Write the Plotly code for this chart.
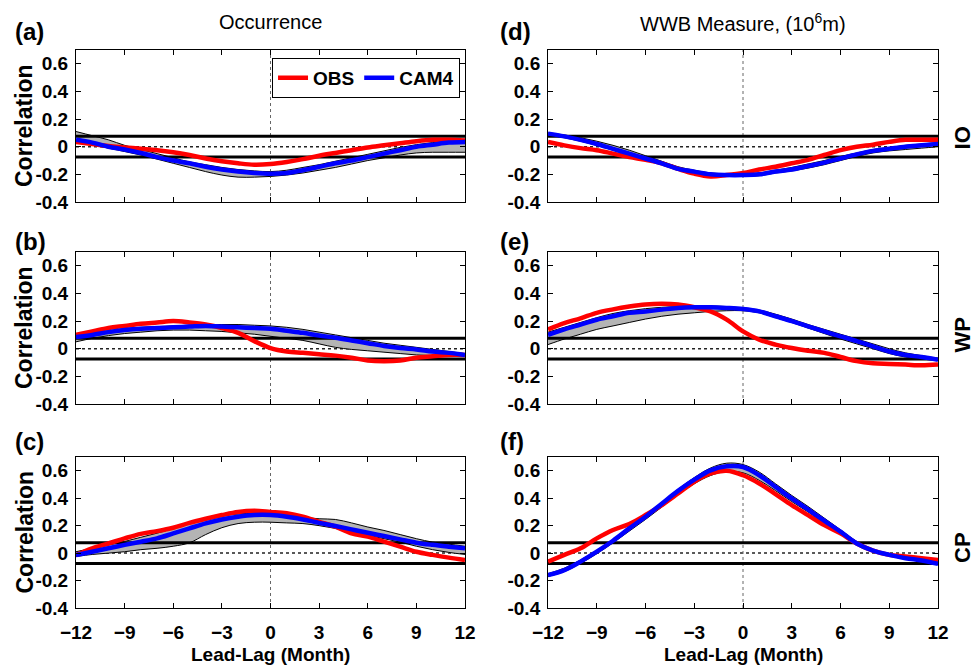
import plotly.graph_objects as go

lag = list(range(-12, 13))
sig_level = 0.075

# (a) Occurrence, IO
obs_a = [0.035, 0.02, 0.005, -0.005, -0.015, -0.025, -0.04, -0.06, -0.085, -0.105, -0.12, -0.13, -0.125,
         -0.11, -0.09, -0.065, -0.045, -0.025, -0.005, 0.01, 0.025, 0.04, 0.05, 0.05, 0.045]
cam_a = [0.05, 0.03, 0.0, -0.02, -0.045, -0.075, -0.1, -0.12, -0.145, -0.165, -0.18, -0.19, -0.195,
         -0.19, -0.17, -0.145, -0.12, -0.1, -0.075, -0.05, -0.025, 0.0, 0.015, 0.03, 0.035]
hi_a = [0.11, 0.08, 0.05, 0.01, -0.02, -0.05, -0.08, -0.11, -0.13, -0.15, -0.165, -0.175, -0.18,
        -0.17, -0.15, -0.13, -0.105, -0.08, -0.055, -0.03, -0.005, 0.015, 0.03, 0.045, 0.055]
lo_a = [0.04, 0.015, -0.01, -0.035, -0.06, -0.09, -0.12, -0.15, -0.18, -0.205, -0.22, -0.22, -0.215,
        -0.205, -0.19, -0.17, -0.15, -0.125, -0.1, -0.08, -0.06, -0.045, -0.04, -0.04, -0.04]

# (b) Occurrence, WP
obs_b = [0.1, 0.125, 0.15, 0.165, 0.18, 0.19, 0.2, 0.19, 0.175, 0.15, 0.115, 0.055, 0.005,
         -0.02, -0.03, -0.04, -0.05, -0.065, -0.085, -0.09, -0.085, -0.065, -0.055, -0.045, -0.045]
cam_b = [0.085, 0.1, 0.12, 0.135, 0.145, 0.15, 0.155, 0.16, 0.165, 0.16, 0.155, 0.15, 0.145,
         0.13, 0.115, 0.095, 0.08, 0.06, 0.04, 0.02, 0.005, -0.005, -0.02, -0.03, -0.045]
hi_b = [0.1, 0.115, 0.13, 0.145, 0.155, 0.16, 0.165, 0.17, 0.175, 0.175, 0.175, 0.17, 0.165,
        0.155, 0.14, 0.12, 0.1, 0.08, 0.06, 0.04, 0.025, 0.01, -0.005, -0.02, -0.035]
lo_b = [0.05, 0.075, 0.095, 0.11, 0.12, 0.13, 0.135, 0.135, 0.13, 0.125, 0.115, 0.105, 0.09,
        0.075, 0.06, 0.035, 0.01, -0.005, -0.015, -0.025, -0.035, -0.045, -0.05, -0.055, -0.055]

# (c) Occurrence, CP
obs_c = [-0.015, 0.035, 0.07, 0.107, 0.14, 0.16, 0.185, 0.22, 0.25, 0.277, 0.3, 0.308, 0.3,
         0.29, 0.265, 0.228, 0.192, 0.143, 0.12, 0.083, 0.047, 0.01, -0.013, -0.033, -0.05]
cam_c = [-0.015, 0.01, 0.035, 0.06, 0.083, 0.107, 0.143, 0.18, 0.216, 0.245, 0.265, 0.277, 0.277,
         0.265, 0.245, 0.22, 0.197, 0.173, 0.148, 0.124, 0.1, 0.076, 0.06, 0.047, 0.035]
hi_c = [0.01, 0.035, 0.06, 0.085, 0.115, 0.145, 0.18, 0.225, 0.255, 0.275, 0.285, 0.29, 0.285,
        0.275, 0.26, 0.25, 0.245, 0.22, 0.19, 0.165, 0.135, 0.105, 0.08, 0.065, 0.05]
lo_c = [-0.025, -0.01, 0.0, 0.01, 0.025, 0.035, 0.05, 0.075, 0.135, 0.185, 0.215, 0.225, 0.225,
        0.22, 0.215, 0.2, 0.18, 0.155, 0.13, 0.105, 0.08, 0.05, 0.025, 0.005, -0.01]

# (d) WWB measure, IO
obs_d = [0.035, 0.01, -0.01, -0.025, -0.05, -0.075, -0.095, -0.12, -0.16, -0.195, -0.215, -0.205, -0.19,
         -0.165, -0.145, -0.12, -0.095, -0.06, -0.025, 0.0, 0.015, 0.035, 0.05, 0.05, 0.05]
cam_d = [0.095, 0.075, 0.05, 0.02, -0.015, -0.05, -0.085, -0.12, -0.16, -0.18, -0.2, -0.205, -0.205,
         -0.2, -0.18, -0.165, -0.14, -0.115, -0.085, -0.055, -0.03, -0.015, 0.0, 0.01, 0.02]
hi_d = [0.1, 0.085, 0.065, 0.04, 0.01, -0.025, -0.065, -0.105, -0.145, -0.17, -0.19, -0.195, -0.195,
        -0.19, -0.17, -0.15, -0.125, -0.1, -0.07, -0.045, -0.02, -0.005, 0.01, 0.02, 0.03]
lo_d = [0.085, 0.065, 0.04, 0.01, -0.025, -0.06, -0.095, -0.13, -0.17, -0.19, -0.21, -0.215, -0.215,
        -0.21, -0.19, -0.175, -0.155, -0.13, -0.1, -0.07, -0.045, -0.03, -0.02, -0.01, 0.0]

# (e) WWB measure, WP
obs_e = [0.14, 0.185, 0.22, 0.26, 0.285, 0.305, 0.32, 0.325, 0.32, 0.3, 0.27, 0.21, 0.125,
         0.065, 0.03, 0.005, -0.015, -0.03, -0.06, -0.09, -0.105, -0.11, -0.115, -0.12, -0.115]
cam_e = [0.1, 0.14, 0.175, 0.21, 0.235, 0.26, 0.27, 0.283, 0.295, 0.3, 0.3, 0.295, 0.287,
         0.27, 0.235, 0.2, 0.162, 0.125, 0.09, 0.055, 0.017, -0.02, -0.045, -0.06, -0.08]
hi_e = [0.12, 0.155, 0.19, 0.225, 0.255, 0.275, 0.29, 0.3, 0.305, 0.31, 0.31, 0.305, 0.295,
        0.28, 0.25, 0.215, 0.175, 0.14, 0.105, 0.07, 0.035, 0.0, -0.03, -0.05, -0.07]
lo_e = [0.03, 0.07, 0.105, 0.14, 0.165, 0.19, 0.215, 0.235, 0.25, 0.26, 0.27, 0.275, 0.275,
        0.26, 0.225, 0.19, 0.15, 0.11, 0.07, 0.035, 0.0, -0.035, -0.06, -0.075, -0.085]

# (f) WWB measure, CP
obs_f = [-0.062, -0.013, 0.035, 0.107, 0.168, 0.212, 0.277, 0.35, 0.434, 0.52, 0.58, 0.6, 0.567,
         0.507, 0.43, 0.35, 0.277, 0.204, 0.144, 0.07, 0.018, -0.013, -0.025, -0.037, -0.05]
cam_f = [-0.16, -0.124, -0.062, 0.01, 0.09, 0.18, 0.265, 0.36, 0.453, 0.535, 0.603, 0.632, 0.627,
         0.567, 0.482, 0.398, 0.318, 0.236, 0.156, 0.07, 0.018, -0.013, -0.037, -0.054, -0.078]
hi_f = [-0.15, -0.11, -0.05, 0.02, 0.1, 0.19, 0.275, 0.37, 0.465, 0.55, 0.62, 0.655, 0.645,
        0.59, 0.505, 0.42, 0.34, 0.255, 0.17, 0.085, 0.025, -0.005, -0.03, -0.045, -0.065]
lo_f = [-0.17, -0.135, -0.075, -0.005, 0.075, 0.16, 0.245, 0.335, 0.425, 0.505, 0.565, 0.595, 0.585,
        0.53, 0.455, 0.375, 0.3, 0.22, 0.14, 0.06, 0.01, -0.02, -0.045, -0.06, -0.085]

panels = [
    ("(a)", obs_a, cam_a, hi_a, lo_a),
    ("(d)", obs_d, cam_d, hi_d, lo_d),
    ("(b)", obs_b, cam_b, hi_b, lo_b),
    ("(e)", obs_e, cam_e, hi_e, lo_e),
    ("(c)", obs_c, cam_c, hi_c, lo_c),
    ("(f)", obs_f, cam_f, hi_f, lo_f),
]
column_titles = ["Occurrence", "WWB Measure, (10<sup>6</sup>m)"]
region_labels = ["IO", "WP", "CP"]
xticks = list(range(-12, 13, 3))
yticks = [-0.4, -0.2, 0, 0.2, 0.4, 0.6]
ytext = ["-0.4", "-0.2", "0", "0.2", "0.4", "0.6"]

FONT = "Liberation Sans"
xdoms = [[0.0, 0.4513], [0.5476, 1.0]]
ydoms = [[0.7276, 1.0], [0.3656, 0.638], [0.0, 0.2706]]

fig = go.Figure()
layout = {}
for i, (lab, obs, cam, hi, lo) in enumerate(panels):
    row, col = divmod(i, 2)
    n = i + 1
    xa = "x" if n == 1 else f"x{n}"
    ya = "y" if n == 1 else f"y{n}"
    # zero reference lines
    fig.add_trace(go.Scatter(x=[lag[0], lag[-1]], y=[0, 0], mode="lines",
                             line=dict(color="#222", width=1.5, dash="dot"),
                             showlegend=False, hoverinfo="skip", xaxis=xa, yaxis=ya))
    fig.add_trace(go.Scatter(x=[0, 0], y=[-0.4, 0.7], mode="lines",
                             line=dict(color="#666", width=1, dash="dot"),
                             showlegend=False, hoverinfo="skip", xaxis=xa, yaxis=ya))
    # ensemble spread
    fig.add_trace(go.Scatter(x=lag, y=lo, mode="lines", line=dict(color="black", width=1, shape="spline"),
                             showlegend=False, hoverinfo="skip", xaxis=xa, yaxis=ya))
    fig.add_trace(go.Scatter(x=lag, y=hi, mode="lines", line=dict(color="black", width=1, shape="spline"),
                             fill="tonexty", fillcolor="#b4b4b4",
                             showlegend=False, hoverinfo="skip", xaxis=xa, yaxis=ya))
    # significance levels
    for s in (sig_level, -sig_level):
        fig.add_trace(go.Scatter(x=[lag[0], lag[-1]], y=[s, s], mode="lines",
                                 line=dict(color="black", width=3),
                                 showlegend=False, hoverinfo="skip", xaxis=xa, yaxis=ya))
    fig.add_trace(go.Scatter(x=lag, y=obs, mode="lines", name="OBS",
                             line=dict(color="#ff0000", width=4.5, shape="spline"),
                             showlegend=(i == 0), xaxis=xa, yaxis=ya))
    fig.add_trace(go.Scatter(x=lag, y=cam, mode="lines", name="CAM4",
                             line=dict(color="#0000ff", width=4.5, shape="spline"),
                             showlegend=(i == 0), xaxis=xa, yaxis=ya))

    xkey = "xaxis" if n == 1 else f"xaxis{n}"
    ykey = "yaxis" if n == 1 else f"yaxis{n}"
    layout[xkey] = dict(domain=xdoms[col], anchor=ya, range=[-12, 12], tickvals=xticks,
                        ticks="inside", ticklen=5, tickcolor="black", mirror="ticks",
                        showline=True, linecolor="black", linewidth=1, showgrid=False, zeroline=False,
                        showticklabels=(row == 2), ticklabelstandoff=7,
                        tickfont=dict(family=FONT, size=19, color="black", weight="bold"))
    layout[ykey] = dict(domain=ydoms[row], anchor=xa, range=[-0.4, 0.7], tickvals=yticks, ticktext=ytext,
                        ticks="inside", ticklen=5, tickcolor="black", mirror="ticks",
                        showline=True, linecolor="black", linewidth=1, showgrid=False, zeroline=False,
                        ticklabelstandoff=3,
                        tickfont=dict(family=FONT, size=19, color="black", weight="bold"))

annotations = []
# column titles
for c, t in enumerate(column_titles):
    annotations.append(dict(text=t, xref="paper", yref="paper", x=sum(xdoms[c]) / 2, y=1.05,
                            xanchor="center", yanchor="middle", showarrow=False,
                            font=dict(family=FONT, size=20, color="black")))
# panel letters
letter_y = [1.034, 0.6577, 0.2975]
letter_x = [-0.0731, 0.4896]
for i, (lab, *_rest) in enumerate(panels):
    row, col = divmod(i, 2)
    annotations.append(dict(text=lab, xref="paper", yref="paper", x=letter_x[col], y=letter_y[row],
                            xanchor="left", yanchor="middle", showarrow=False,
                            font=dict(family=FONT, size=24, color="black", weight="bold")))
# Correlation labels (left column)
for row in range(3):
    n = row * 2 + 1
    yd = "y domain" if n == 1 else f"y{n} domain"
    annotations.append(dict(text="Correlation", xref="paper", yref=yd, x=-0.0603, y=0.5,
                            xanchor="center", yanchor="middle", textangle=-90, showarrow=False,
                            font=dict(family=FONT, size=23, color="black", weight="bold")))
# region labels (right column)
region_y = [0.064, 0.1, 0.042]
for row in range(3):
    n = row * 2 + 2
    annotations.append(dict(text=region_labels[row], xref="paper", yref=f"y{n}", x=1.0285, y=region_y[row],
                            xanchor="center", yanchor="middle", textangle=-90, showarrow=False,
                            font=dict(family=FONT, size=22, color="black", weight="bold")))
# x-axis titles
for c, xr in enumerate(["x5 domain", "x6 domain"]):
    annotations.append(dict(text="Lead-Lag (Month)", xref=xr, yref="paper", x=0.5, y=-0.0842,
                            xanchor="center", yanchor="middle", showarrow=False,
                            font=dict(family=FONT, size=19, color="black", weight="bold")))

fig.update_layout(
    width=978, height=672,
    margin=dict(l=76, r=40, t=50, b=64),
    paper_bgcolor="white", plot_bgcolor="white",
    font=dict(family=FONT, color="black"),
    showlegend=True,
    legend=dict(orientation="h", x=0.4455, y=0.986, xanchor="right", yanchor="top",
                bgcolor="white", bordercolor="black", borderwidth=1, traceorder="normal",
                font=dict(family=FONT, size=19, color="black", weight="bold"),
                itemwidth=30, tracegroupgap=0),
    annotations=annotations,
    **layout,
)

fig.write_html("out.html")
